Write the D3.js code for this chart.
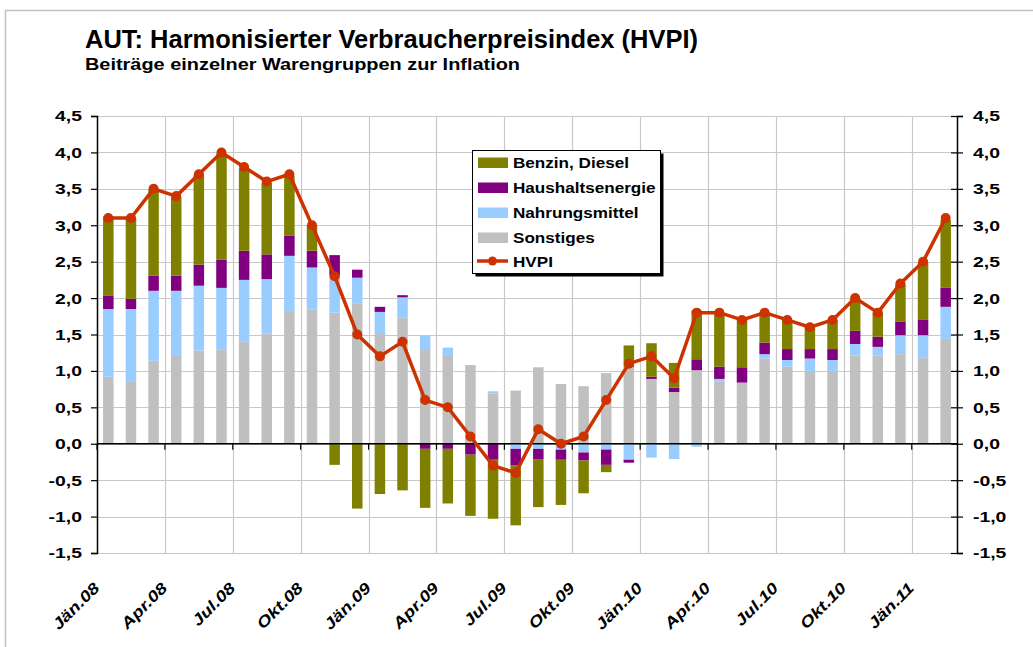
<!DOCTYPE html>
<html>
<head>
<meta charset="utf-8">
<script src="https://cdn.jsdelivr.net/npm/d3@7"></script>
<style>
  body { margin: 0; background: #fff; }
  svg { display: block; font-family: "Liberation Sans", Arial, sans-serif; }
</style>
</head>
<body>
<svg id="chart" width="1033" height="647"></svg>
<script>
// Monats-Kategorien (Jän.08 bis Feb.11)
const monthNames = ['Jän', 'Feb', 'Mär', 'Apr', 'Mai', 'Jun', 'Jul', 'Aug', 'Sep', 'Okt', 'Nov', 'Dez'];
const months = [];
['08', '09', '10', '11'].forEach(yr => monthNames.forEach(m => months.push(m + '.' + yr)));
months.splice(38);

// Beiträge in Prozentpunkten
const sonstiges = [0.92, 0.86, 1.14, 1.22, 1.28, 1.29, 1.40, 1.51, 1.81, 1.84,
  1.80, 1.93, 1.52, 1.73, 1.30, 1.22, 1.08, 0.69, 0.73, 1.05,
  0.82, 0.79, 0.97, 1.05, 0.89, 0.71, 1.01, 0.85, 0.84, 1.17,
  1.06, 1.00, 1.00, 1.21, 1.21, 1.23, 1.18, 1.44];
const nahrungsmittel = [0.93, 0.99, 0.96, 0.88, 0.89, 0.85, 0.85, 0.75, 0.77, 0.58,
  0.51, 0.35, 0.29, 0.28, 0.18, 0.10, 0.00, 0.03, -0.07, -0.07,
  -0.08, -0.12, -0.08, -0.22, -0.19, -0.21, -0.04, 0.04, 0.00, 0.06,
  0.09, 0.17, 0.15, 0.16, 0.12, 0.26, 0.31, 0.44];
const haushaltsenergie = [0.18, 0.14, 0.21, 0.21, 0.29, 0.39, 0.40, 0.34, 0.28, 0.23,
  0.28, 0.11, 0.07, 0.03, -0.07, -0.07, -0.15, -0.22, -0.23, -0.14,
  -0.14, -0.11, -0.21, -0.04, 0.03, 0.06, 0.15, 0.17, 0.21, 0.16,
  0.15, 0.13, 0.15, 0.18, 0.14, 0.19, 0.21, 0.26];
const benzinDiesel = [1.09, 1.12, 1.18, 1.08, 1.23, 1.45, 1.13, 0.98, 0.82, 0.35,
  -0.29, -0.89, -0.69, -0.64, -0.81, -0.75, -0.84, -0.81, -0.82, -0.66,
  -0.62, -0.45, -0.10, 0.30, 0.46, 0.34, 0.67, 0.74, 0.65, 0.41,
  0.40, 0.30, 0.40, 0.44, 0.33, 0.51, 0.79, 0.93];
const hvpi = [3.1, 3.1, 3.5, 3.4, 3.7, 4.0, 3.8, 3.6, 3.7, 3.0,
  2.3, 1.5, 1.2, 1.4, 0.6, 0.5, 0.1, -0.3, -0.4, 0.2,
  0.0, 0.1, 0.6, 1.1, 1.2, 0.9, 1.8, 1.8, 1.7, 1.8,
  1.7, 1.6, 1.7, 2.0, 1.8, 2.2, 2.5, 3.1];

const yTicks = [-1.5, -1.0, -0.5, 0, 0.5, 1.0, 1.5, 2.0, 2.5, 3.0, 3.5, 4.0, 4.5];
const xTickLabels = ['Jän.08', 'Apr.08', 'Jul.08', 'Okt.08', 'Jän.09', 'Apr.09', 'Jul.09',
  'Okt.09', 'Jän.10', 'Apr.10', 'Jul.10', 'Okt.10', 'Jän.11'];

const seriesKeys = ['Sonstiges', 'Nahrungsmittel', 'Haushaltsenergie', 'Benzin, Diesel'];
const seriesValues = [sonstiges, nahrungsmittel, haushaltsenergie, benzinDiesel];
const colors = {
  'Benzin, Diesel': '#808000',
  'Haushaltsenergie': '#800080',
  'Nahrungsmittel': '#99ccff',
  'Sonstiges': '#c0c0c0'
};
const lineColor = '#cc3300';

const fmt = d3.formatLocale({ decimal: ',', thousands: '.', grouping: [3], currency: ['', '€'], minus: '-' }).format('.1f');

// Text in der Breite strecken (Vorlage wirkt breiter als Arial)
function stretch(sel, k) {
  sel.each(function () {
    const len = this.getComputedTextLength();
    d3.select(this).attr('textLength', len * k).attr('lengthAdjust', 'spacingAndGlyphs');
  });
}

const svg = d3.select('#chart');
const W = 1033, H = 647;
const plot = { left: 97, right: 957, top: 116, bottom: 553 };

// Rahmen
svg.append('rect')
  .attr('x', 5.5).attr('y', 10.5).attr('width', W + 10).attr('height', H + 10)
  .attr('fill', 'none').attr('stroke', '#c0c0c0').attr('stroke-width', 1.5);

// Titel
svg.append('text').attr('x', 85).attr('y', 48)
  .attr('font-size', 26).attr('font-weight', 'bold')
  .attr('textLength', 613).attr('lengthAdjust', 'spacingAndGlyphs')
  .text('AUT: Harmonisierter Verbraucherpreisindex (HVPI)');
svg.append('text').attr('x', 85).attr('y', 70)
  .attr('font-size', 16).attr('font-weight', 'bold')
  .attr('textLength', 435).attr('lengthAdjust', 'spacingAndGlyphs')
  .text('Beiträge einzelner Warengruppen zur Inflation');

const x = d3.scaleBand()
  .domain(months)
  .range([plot.left, plot.right])
  .paddingInner(0.535)
  .paddingOuter(0.2675);

const y = d3.scaleLinear()
  .domain([-1.5, 4.5])
  .range([plot.bottom, plot.top]);

const cellStart = m => x(m) + x.bandwidth() / 2 - x.step() / 2;
const tickMonths = months.filter((m, i) => i % 3 === 0);

// Gitterlinien
svg.append('g').selectAll('line.h')
  .data(yTicks)
  .join('line')
  .attr('x1', plot.left).attr('x2', plot.right)
  .attr('y1', d => Math.round(y(d)) + 0.5).attr('y2', d => Math.round(y(d)) + 0.5)
  .attr('stroke', '#c8c8c8').attr('stroke-width', 1.2);

svg.append('g').selectAll('line.v')
  .data(tickMonths.slice(1))
  .join('line')
  .attr('x1', d => Math.round(cellStart(d)) + 0.5).attr('x2', d => Math.round(cellStart(d)) + 0.5)
  .attr('y1', plot.top).attr('y2', plot.bottom)
  .attr('stroke', '#c8c8c8').attr('stroke-width', 1.2);

// gestapelte Balken
const rows = months.map((m, i) => {
  const r = { month: m };
  seriesKeys.forEach((k, j) => { r[k] = seriesValues[j][i]; });
  return r;
});
const stacked = d3.stack().keys(seriesKeys).offset(d3.stackOffsetDiverging)(rows);

svg.append('g').selectAll('g')
  .data(stacked)
  .join('g')
  .attr('fill', d => colors[d.key])
  .selectAll('rect')
  .data(d => d)
  .join('rect')
  .attr('x', d => x(d.data.month))
  .attr('width', x.bandwidth())
  .attr('y', d => y(Math.max(d[0], d[1])))
  .attr('height', d => Math.abs(y(d[0]) - y(d[1])));

// Achsen
const yLeft = svg.append('g')
  .attr('transform', `translate(${plot.left},0)`)
  .call(d3.axisLeft(y).tickValues(yTicks).tickFormat(fmt).tickSize(6).tickPadding(9));
const yRight = svg.append('g')
  .attr('transform', `translate(${plot.right},0)`)
  .call(d3.axisRight(y).tickValues(yTicks).tickFormat(fmt).tickSize(6).tickPadding(10));
yRight.selectAll('.tick line').attr('x1', -6);

[yLeft, yRight].forEach(g => {
  g.select('.domain').attr('stroke', '#000').attr('stroke-width', 1.5);
  g.selectAll('.tick line').attr('stroke', '#000').attr('stroke-width', 1.2);
  g.selectAll('.tick text')
    .attr('font-size', 15.5).attr('font-weight', 'bold')
    .attr('font-family', '"Liberation Sans", Arial, sans-serif')
    .attr('fill', '#000')
    .call(stretch, 1.25);
});

// Nulllinie mit Teilstrichen
const xAxis = svg.append('g').attr('transform', `translate(0,${y(0)})`);
xAxis.append('line')
  .attr('x1', plot.left).attr('x2', plot.right)
  .attr('stroke', '#000').attr('stroke-width', 1.5);
xAxis.selectAll('line.tk')
  .data(tickMonths)
  .join('line')
  .attr('x1', d => cellStart(d)).attr('x2', d => cellStart(d))
  .attr('y1', 0).attr('y2', 6)
  .attr('stroke', '#000').attr('stroke-width', 1.2);

// X-Beschriftungen
svg.append('g').selectAll('text')
  .data(tickMonths)
  .join('text')
  .attr('transform', d => `translate(${x(d) + x.bandwidth() / 2 - 8},${plot.bottom + 36}) rotate(-45)`)
  .attr('text-anchor', 'end')
  .attr('font-size', 15.5).attr('font-weight', 'bold').attr('font-style', 'italic')
  .text((d, i) => xTickLabels[i])
  .call(stretch, 1.22);

// HVPI Linie
const line = d3.line()
  .x((d, i) => x(months[i]) + x.bandwidth() / 2)
  .y(d => y(d));

svg.append('path')
  .datum(hvpi)
  .attr('d', line)
  .attr('fill', 'none')
  .attr('stroke', lineColor)
  .attr('stroke-width', 3.5)
  .attr('stroke-linejoin', 'round');

svg.append('g').selectAll('circle')
  .data(hvpi)
  .join('circle')
  .attr('cx', (d, i) => x(months[i]) + x.bandwidth() / 2)
  .attr('cy', d => y(d))
  .attr('r', 5)
  .attr('fill', lineColor);

// Legende
const legend = svg.append('g').attr('transform', 'translate(472,150)');
legend.append('rect')
  .attr('x', 3.5).attr('y', 3.5).attr('width', 188).attr('height', 123).attr('fill', '#000');
legend.append('rect')
  .attr('x', 0.5).attr('y', 0.5).attr('width', 188).attr('height', 123)
  .attr('fill', '#fff').attr('stroke', '#000').attr('stroke-width', 1);

const legendItems = ['Benzin, Diesel', 'Haushaltsenergie', 'Nahrungsmittel', 'Sonstiges', 'HVPI'];
const legendRowY = [12.5, 37.5, 62.5, 87.5, 111];
const li = legend.selectAll('g.item')
  .data(legendItems)
  .join('g')
  .attr('transform', (d, i) => `translate(0,${legendRowY[i]})`);

li.filter(d => d !== 'HVPI').append('rect')
  .attr('x', 6).attr('y', -5).attr('width', 30).attr('height', 10.5)
  .attr('fill', d => colors[d]);
li.filter(d => d === 'HVPI').append('line')
  .attr('x1', 5).attr('x2', 36).attr('y1', 0).attr('y2', 0)
  .attr('stroke', lineColor).attr('stroke-width', 3.5);
li.filter(d => d === 'HVPI').append('circle')
  .attr('cx', 20.5).attr('cy', 0).attr('r', 4.5).attr('fill', lineColor);
li.append('text')
  .attr('x', 41).attr('y', 5.5)
  .attr('font-size', 15).attr('font-weight', 'bold')
  .text(d => d)
  .call(stretch, 1.14);
</script>
</body>
</html>
